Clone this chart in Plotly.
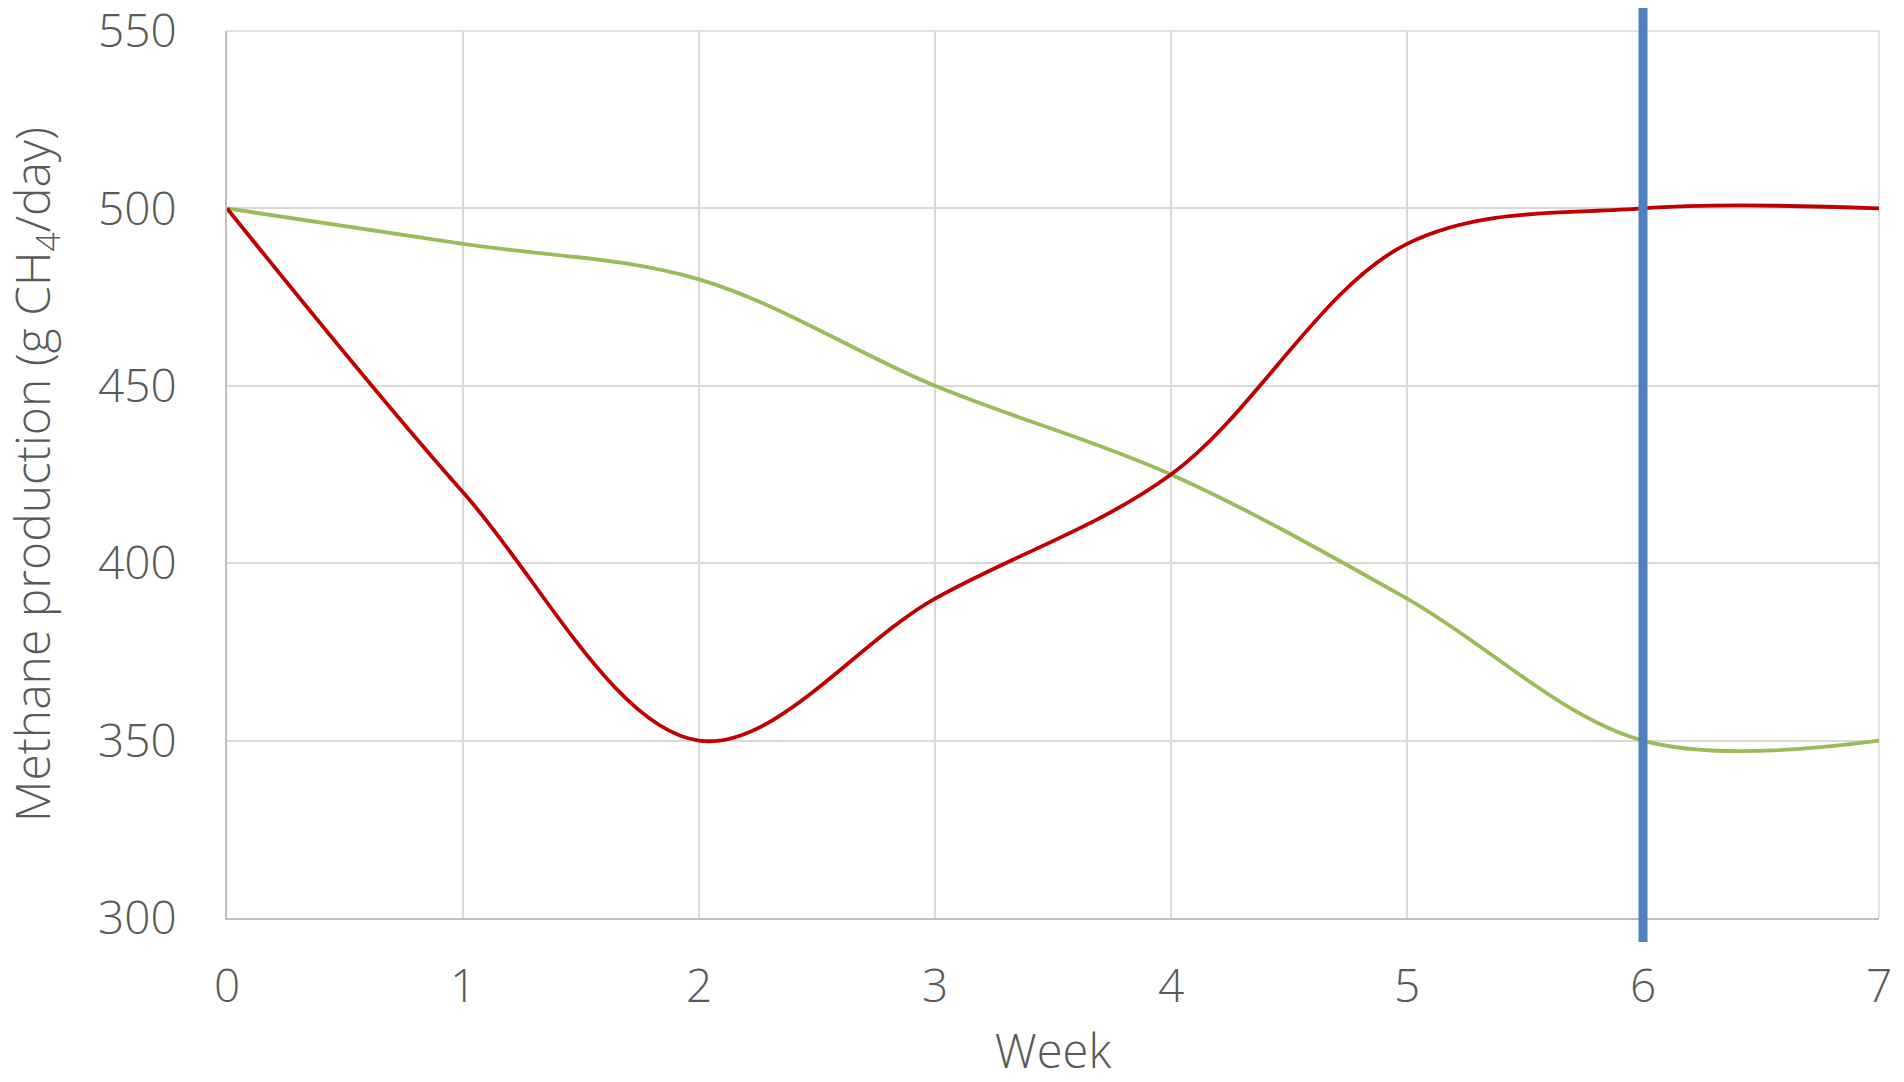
import plotly.graph_objects as go

weeks = [0, 1, 2, 3, 4, 5, 6, 7]
red_values = [500, 420, 350, 390, 425, 490, 500, 500]
green_values = [500, 490, 480, 450, 425, 390, 350, 350]
marker_week = 6
x_ticks = [0, 1, 2, 3, 4, 5, 6, 7]
y_ticks = [300, 350, 400, 450, 500, 550]

FONT = "Open Sans"
TXT = "#595959"
GRID = "#D9D9D9"

fig = go.Figure()
fig.add_trace(go.Scatter(x=weeks, y=green_values, mode="lines",
                         line=dict(color="#9BBB59", width=3.8, shape="spline", smoothing=1.0),
                         showlegend=False, hoverinfo="skip"))
fig.add_trace(go.Scatter(x=weeks, y=red_values, mode="lines",
                         line=dict(color="#C00000", width=3.8, shape="spline", smoothing=1.0),
                         showlegend=False, hoverinfo="skip"))

# top and right border gridlines (edge gridlines are not drawn by plotly)
fig.add_shape(type="line", xref="paper", yref="paper", x0=0, x1=1, y0=1, y1=1,
              line=dict(color=GRID, width=1.5), layer="below")
fig.add_shape(type="line", xref="paper", yref="paper", x0=1, x1=1, y0=0, y1=1,
              line=dict(color=GRID, width=1.5), layer="below")

fig.add_shape(type="line", xref="x", yref="paper",
              x0=marker_week, x1=marker_week, y0=-0.027, y1=1.0316,
              line=dict(color="#4F81BD", width=9), layer="above")

fig.add_annotation(text="Methane production (g CH<sub>4</sub>/day)", textangle=-90,
                   xref="paper", yref="paper", x=-0.1165, y=0.5,
                   xanchor="center", yanchor="middle", showarrow=False,
                   font=dict(size=48, color=TXT, family=FONT, weight=300))

fig.update_layout(
    width=1896, height=1074,
    margin=dict(l=219, r=25, t=23, b=164, autoexpand=False),
    paper_bgcolor="white", plot_bgcolor="white",
    font=dict(family=FONT, color=TXT, size=46, weight=300),
    xaxis=dict(range=[0, 7], tickvals=x_ticks, showgrid=True, gridcolor=GRID, gridwidth=1.5,
               zeroline=False, showline=True, linecolor="#BFBFBF", linewidth=2, automargin=False,
               tickfont=dict(size=46, color=TXT, family=FONT, weight=300), ticks="", ticklabelstandoff=27,
               ticklabeloverflow="allow",
               title=dict(text="Week", font=dict(size=47, color=TXT, family=FONT, weight=300), standoff=29)),
    yaxis=dict(range=[300, 550], tickvals=y_ticks, showgrid=True, gridcolor=GRID, gridwidth=1.5,
               zeroline=False, showline=True, linecolor="#BFBFBF", linewidth=2, automargin=False,
               tickfont=dict(size=46, color=TXT, family=FONT, weight=300), ticks="", ticklabelstandoff=39,
               ticklabeloverflow="allow"),
)

fig.write_html("out.html")
